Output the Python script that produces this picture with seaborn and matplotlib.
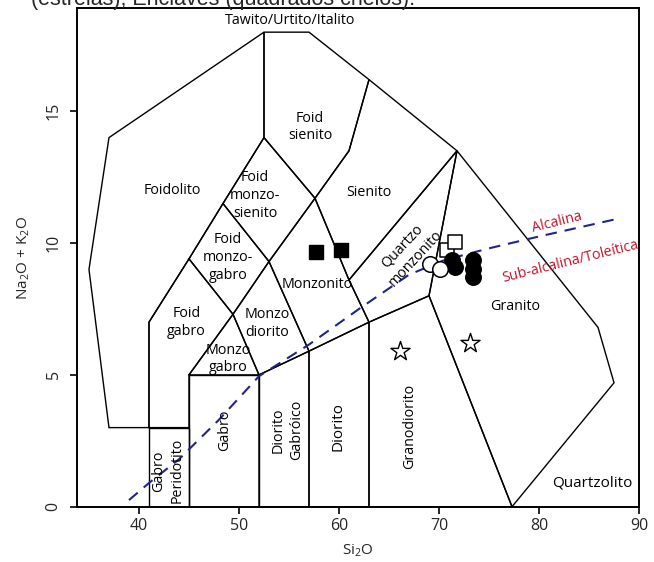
import matplotlib
matplotlib.use("Agg")
import matplotlib.pyplot as plt
import seaborn as sns
import pandas as pd

# --- TAS plutonic classification fields (SiO2 wt%, Na2O+K2O wt%) ---
peridotgabro = [(41, 0), (41, 3), (45, 3), (45, 0)]
gabro = [(45, 0), (45, 5), (52, 5), (52, 0)]
diorito_gabroico = [(52, 0), (52, 5), (57, 5.9), (57, 0)]
diorito = [(57, 0), (57, 5.9), (63, 7), (63, 0)]
granodiorito = [(63, 0), (63, 7), (69, 8), (77.3, 0)]
granito = [(69, 8), (71.8, 13.5), (85.9, 6.8), (87.5, 4.7), (77.3, 0)]
monzogabro = [(45, 5), (49.4, 7.3), (52, 5)]
monzodiorito = [(49.4, 7.3), (53, 9.3), (57, 5.9), (52, 5)]
monzonito = [(53, 9.3), (57.6, 11.7), (61, 8.6), (63, 7), (57, 5.9)]
quartzo_monzonito = [(61, 8.6), (71.8, 13.5), (69, 8), (63, 7)]
sienito = [(57.6, 11.7), (61, 13.5), (63, 16.2), (71.8, 13.5), (61, 8.6)]
foid_gabro = [(41, 3), (41, 7), (45, 9.4), (49.4, 7.3), (45, 5), (45, 3)]
foid_monzogabro = [(45, 9.4), (48.4, 11.5), (53, 9.3), (49.4, 7.3)]
foid_monzosienito = [(48.4, 11.5), (52.5, 14), (57.6, 11.7), (53, 9.3)]
foid_sienito = [(52.5, 14), (52.5, 18), (57, 18), (63, 16.2), (61, 13.5), (57.6, 11.7)]
foidolito = [(41, 3), (37, 3), (35, 9), (37, 14), (52.5, 18), (52.5, 14),
             (48.4, 11.5), (45, 9.4), (41, 7)]

# --- alkaline / sub-alkaline divider ---
divisor_x = [39.0, 41.0, 44.0, 48.0, 52.0, 57.0, 62.0, 67.0, 70.5, 75.0, 80.0, 88.2]
divisor_y = [0.25, 0.9, 1.8, 3.3, 4.95, 6.15, 7.5, 8.8, 9.35, 9.8, 10.25, 10.95]

# --- samples ---
enclave_x = [57.7, 60.2]
enclave_y = [9.65, 9.75]
quadrado_aberto_x = [70.8, 71.6]
quadrado_aberto_y = [9.75, 10.05]
circulo_cheio_x = [71.25, 71.55, 73.4, 73.4, 73.4]
circulo_cheio_y = [9.35, 9.1, 9.36, 9.03, 8.7]
circulo_aberto_x = [69.05, 70.1]
circulo_aberto_y = [9.2, 9.0]
estrela_x = [66.05, 73.05]
estrela_y = [5.9, 6.2]

x_ticks = [40, 50, 60, 70, 80, 90]
y_ticks = [0, 5, 10, 15]

sns.set_theme(style="ticks")
plt.rcParams["font.family"] = ["Open Sans", "DejaVu Sans"]
plt.rcParams["mathtext.fontset"] = "custom"
plt.rcParams["mathtext.rm"] = "Open Sans"

fig = plt.figure(figsize=(6.54, 5.62), dpi=100)
ax = fig.add_axes([0.1177, 0.0984, 0.8594, 0.8866])

fields = [peridotgabro, gabro, diorito_gabroico, diorito, granodiorito, granito,
          monzogabro, monzodiorito, monzonito, quartzo_monzonito, sienito,
          foid_gabro, foid_monzogabro, foid_monzosienito, foid_sienito, foidolito]
for poly in fields:
    xs = [p[0] for p in poly] + [poly[0][0]]
    ys = [p[1] for p in poly] + [poly[0][1]]
    ax.plot(xs, ys, color="black", lw=1.0, solid_joinstyle="miter", zorder=2)

div = pd.DataFrame({"x": divisor_x, "y": divisor_y})
sns.lineplot(data=div, x="x", y="y", sort=False, ax=ax, color="#23238a",
             lw=1.5, dashes=False, zorder=3)
ax.lines[-1].set_dashes((5.5, 3.8))

def pts(xs, ys):
    return pd.DataFrame({"x": xs, "y": ys})

sns.scatterplot(data=pts(quadrado_aberto_x, quadrado_aberto_y), x="x", y="y", ax=ax,
                marker="s", s=95, facecolor="white", edgecolor="black",
                linewidth=1.1, zorder=4)
sns.scatterplot(data=pts(circulo_cheio_x, circulo_cheio_y), x="x", y="y", ax=ax,
                marker="o", s=125, color="black", edgecolor="black",
                linewidth=1.0, zorder=5)
sns.scatterplot(data=pts(circulo_aberto_x, circulo_aberto_y), x="x", y="y", ax=ax,
                marker="o", s=125, facecolor="white", edgecolor="black",
                linewidth=1.1, zorder=6)
sns.scatterplot(data=pts(enclave_x, enclave_y), x="x", y="y", ax=ax,
                marker="s", s=105, color="black", edgecolor="black",
                linewidth=1.0, zorder=5)
sns.scatterplot(data=pts(estrela_x, estrela_y), x="x", y="y", ax=ax,
                marker="*", s=210, facecolor="white", edgecolor="black",
                linewidth=1.0, zorder=5)

fs = 10.3
lab = dict(ha="center", va="center", fontsize=fs, color="black", zorder=7,
           linespacing=1.25)
ax.text(55.1, 18.45, "Tawito/Urtito/Italito", **lab)
ax.text(57.1, 14.4, "Foid\nsienito", **lab)
ax.text(43.3, 12.0, "Foidolito", **lab)
ax.text(51.6, 11.8, "Foid\nmonzo-\nsienito", **lab)
ax.text(63.0, 11.9, "Sienito", **lab)
ax.text(48.9, 9.45, "Foid\nmonzo-\ngabro", **lab)
ax.text(44.75, 7.0, "Foid\ngabro", **lab)
ax.text(52.8, 6.95, "Monzo\ndiorito", **lab)
ax.text(48.9, 5.6, "Monzo\ngabro", **lab)
ax.text(57.8, 8.42, "Monzonito", **lab)
ax.text(67.0, 9.65, "Quartzo\nmonzonito", rotation=47, **lab)
ax.text(77.65, 7.6, "Granito", **lab)
ax.text(85.3, 0.91, "Quartzolito", **{**lab, "fontsize": 11})
ax.text(42.9, 1.36, "Gabro\nPeridotito", rotation=90, **lab)
ax.text(48.6, 2.9, "Gabro", rotation=90, **lab)
ax.text(54.85, 2.9, "Diorito\nGabróico", rotation=90, **lab)
ax.text(59.95, 3.05, "Diorito", rotation=90, **{**lab, "fontsize": 11})
ax.text(67.1, 3.05, "Granodiorito", rotation=90, **lab)

vermelho = "#c0172d"
ax.text(81.8, 10.8, "Alcalina", rotation=14, ha="center", va="center",
        fontsize=10.3, color=vermelho, zorder=7)
ax.text(83.1, 9.3, "Sub-alcalina/Toleítica", rotation=14, ha="center",
        va="center", fontsize=10.3, color=vermelho, zorder=7)

ax.set_xlim(33.8, 90)
ax.set_ylim(0, 18.9)
ax.set_xticks(x_ticks)
ax.set_yticks(y_ticks)
ax.set_xticklabels([str(t) for t in x_ticks], fontsize=11.5)
ax.set_yticklabels([str(t) for t in y_ticks], fontsize=11.5, rotation=90,
                   va="center")
ax.tick_params(direction="out", length=5, width=1.2, color="black", pad=3)
ax.tick_params(axis="y", pad=6)
for sp in ax.spines.values():
    sp.set_linewidth(1.4)
    sp.set_color("black")
ax.set_xlabel("Si$_2$O", fontsize=11, labelpad=6)
ax.set_ylabel("Na$_2$O + K$_2$O", fontsize=11, labelpad=10)

# caption line continuing from the text above the figure
fig.text(0.048, 0.991, "(estrelas), Enclaves (quadrados cheios).",
         family=["Liberation Sans", "DejaVu Sans"], fontsize=15.5,
         ha="left", va="baseline")

fig.savefig("out.png", dpi=100, facecolor="white")
